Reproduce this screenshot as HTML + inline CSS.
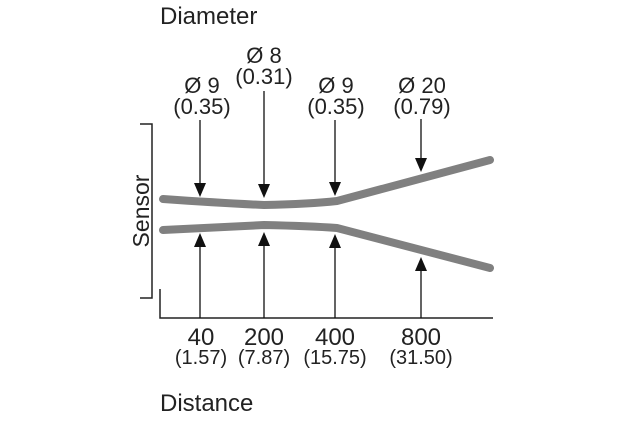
<!DOCTYPE html>
<html><head><style>
body{margin:0;background:#fff}
svg text{font-family:"Liberation Sans",sans-serif;fill:#222}
</style></head><body>
<svg width="620" height="420" viewBox="0 0 620 420" xmlns="http://www.w3.org/2000/svg">
<text x="160" y="24" font-size="24">Diameter</text>
<text x="160" y="411" font-size="24">Distance</text>
<g font-size="22" text-anchor="middle">
<text x="202" y="93">Ø 9</text><text x="202" y="114">(0.35)</text>
<text x="264" y="63">Ø 8</text><text x="264" y="84">(0.31)</text>
<text x="336" y="93">Ø 9</text><text x="336" y="114">(0.35)</text>
<text x="422" y="93">Ø 20</text><text x="422" y="114">(0.79)</text>
<text x="201" y="345" font-size="24">40</text><text x="201" y="364" font-size="20">(1.57)</text>
<text x="264" y="345" font-size="24">200</text><text x="264" y="364" font-size="20">(7.87)</text>
<text x="335" y="345" font-size="24">400</text><text x="335" y="364" font-size="20">(15.75)</text>
<text x="421" y="345" font-size="24">800</text><text x="421" y="364" font-size="20">(31.50)</text>
</g>
<text transform="translate(149,211) rotate(-90)" font-size="23" text-anchor="middle">Sensor</text>
<path d="M140,124 H152 V298 H140" fill="none" stroke="#222" stroke-width="1.5"/>
<path d="M160,289 V318 H493" fill="none" stroke="#222" stroke-width="1.5"/>
<path d="M163,199 Q220,203 264,205 Q310,204 337,201 L490,160" fill="none" stroke="#808080" stroke-width="8" stroke-linecap="round" stroke-linejoin="round"/>
<path d="M163,230 Q220,227 264,225 Q310,226 337,228 L490,268" fill="none" stroke="#808080" stroke-width="8" stroke-linecap="round" stroke-linejoin="round"/>
<g stroke="#111" stroke-width="1.3">
<line x1="200" y1="120" x2="200" y2="185"/>
<line x1="264" y1="91" x2="264" y2="186"/>
<line x1="335" y1="120" x2="335" y2="184"/>
<line x1="421" y1="119" x2="421" y2="160"/>
<line x1="200" y1="318" x2="200" y2="245"/>
<line x1="264" y1="318" x2="264" y2="244"/>
<line x1="335" y1="318" x2="335" y2="246"/>
<line x1="421" y1="318" x2="421" y2="269"/>
</g>
<g fill="#111">
<path d="M194,183 H206 L200,197 Z"/>
<path d="M258,184 H270 L264,198 Z"/>
<path d="M329,182 H341 L335,196 Z"/>
<path d="M415,158 H427 L421,172 Z"/>
<path d="M194,247 H206 L200,233 Z"/>
<path d="M258,246 H270 L264,232 Z"/>
<path d="M329,248 H341 L335,234 Z"/>
<path d="M415,271 H427 L421,257 Z"/>
</g>
</svg>
</body></html>
